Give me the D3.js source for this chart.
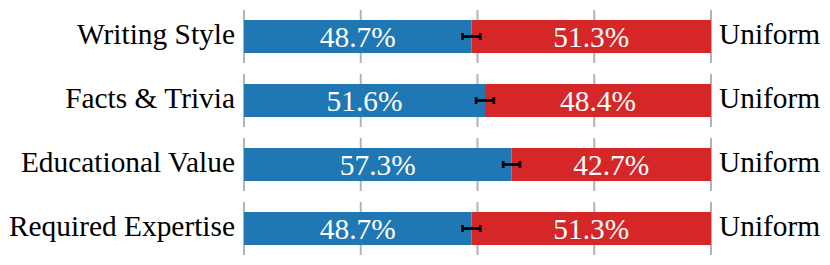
<!DOCTYPE html>
<html>
<head>
<script src="https://cdn.jsdelivr.net/npm/d3@7"></script>
</head>
<body style="margin:0">
<script>
// data
var categories = ["Writing Style", "Facts & Trivia", "Educational Value", "Required Expertise"]
var leftValues = [48.7, 51.6, 57.3, 48.7]
var rightValues = [51.3, 48.4, 42.7, 51.3]
var errValues = [1.9, 1.9, 1.8, 1.9]
var rightLabels = ["Uniform", "Uniform", "Uniform", "Uniform"]
var gridTicks = [0, 25, 50, 75, 100]

var width = 830, height = 265
var barH = 33
var fontSize = '29.4px'

var svg = d3.select('body')
    .append('svg')
    .attr('width', width)
    .attr('height', height)
    .style('font-family', '"Liberation Serif"')

// x scale, percent of bar
var x = d3.scaleLinear()
    .domain([0, 100])
    .range([244, 711])

// row centres
var y = d3.scalePoint()
    .domain(categories)
    .range([36.5, 228.5])

var rows = svg.selectAll('g.row')
    .data(categories.map((c, i) => ({cat: c, left: leftValues[i], right: rightValues[i], err: errValues[i], label: rightLabels[i]})))
    .enter()
    .append('g')
    .attr('class', 'row')
    .attr('transform', d => `translate(0,${y(d.cat)})`)

// gridlines, each row has its own short set
rows.selectAll('line.grid')
    .data(gridTicks)
    .enter()
    .append('line')
    .attr('class', 'grid')
    .attr('x1', d => x(d))
    .attr('x2', d => x(d))
    .attr('y1', -26.5)
    .attr('y2', 26.5)
    .attr('stroke', '#b3b3b3')
    .attr('stroke-width', 2)

// blue part
rows.append('rect')
    .attr('x', x(0))
    .attr('y', -barH / 2)
    .attr('width', d => x(d.left) - x(0))
    .attr('height', barH)
    .attr('fill', '#1f77b4')

// red part
rows.append('rect')
    .attr('x', d => x(d.left))
    .attr('y', -barH / 2)
    .attr('width', d => x(d.left + d.right) - x(d.left))
    .attr('height', barH)
    .attr('fill', '#d62728')

// percent labels inside bars
rows.append('text')
    .attr('x', d => (x(0) + x(d.left)) / 2)
    .attr('y', 10)
    .attr('text-anchor', 'middle')
    .style('font-size', fontSize)
    .attr('fill', '#fff')
    .text(d => d.left.toFixed(1) + '%')

rows.append('text')
    .attr('x', d => (x(d.left) + x(d.left + d.right)) / 2)
    .attr('y', 10)
    .attr('text-anchor', 'middle')
    .style('font-size', fontSize)
    .attr('fill', '#fff')
    .text(d => d.right.toFixed(1) + '%')

// error bars
var capH = 7
rows.append('line')
    .attr('x1', d => x(d.left - d.err))
    .attr('x2', d => x(d.left + d.err))
    .attr('y1', 0).attr('y2', 0)
    .attr('stroke', '#000')
    .attr('stroke-width', 2.7)
rows.append('line')
    .attr('x1', d => x(d.left - d.err))
    .attr('x2', d => x(d.left - d.err))
    .attr('y1', -capH / 2).attr('y2', capH / 2)
    .attr('stroke', '#000')
    .attr('stroke-width', 2.7)
rows.append('line')
    .attr('x1', d => x(d.left + d.err))
    .attr('x2', d => x(d.left + d.err))
    .attr('y1', -capH / 2).attr('y2', capH / 2)
    .attr('stroke', '#000')
    .attr('stroke-width', 2.7)

// category labels on the left
rows.append('text')
    .attr('x', x(0) - 9)
    .attr('y', 7)
    .attr('text-anchor', 'end')
    .style('font-size', fontSize)
    .attr('fill', '#000')
    .text(d => d.cat)

// right labels
rows.append('text')
    .attr('x', x(100) + 8)
    .attr('y', 7.5)
    .attr('text-anchor', 'start')
    .style('font-size', fontSize)
    .attr('fill', '#000')
    .text(d => d.label)
</script>
</body>
</html>
